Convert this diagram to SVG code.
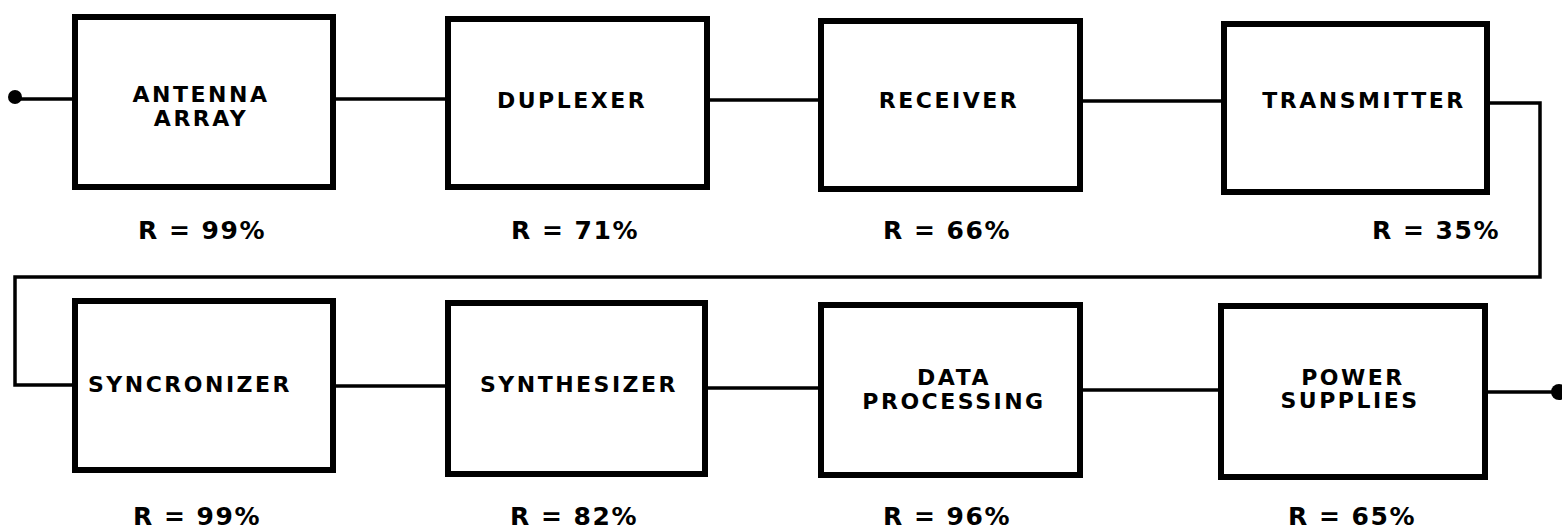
<svg xmlns="http://www.w3.org/2000/svg" width="1562" height="529" viewBox="0 0 1562 529">
<style>
.box{fill:#fff;stroke:#000;stroke-width:6;stroke-linejoin:miter}
.wire{fill:none;stroke:#000;stroke-width:3.5}
.t{font-family:"DejaVu Sans","Liberation Sans",Arial,sans-serif;font-weight:bold;font-size:22px;letter-spacing:2.5px;text-anchor:middle;fill:#000}
.r{font-family:"DejaVu Sans","Liberation Sans",Arial,sans-serif;font-weight:bold;font-size:25px;letter-spacing:1.5px;text-anchor:middle;fill:#000}
</style>
<rect width="1562" height="529" fill="#fff"/>
<g id="connectors">
<path class="wire" d="M15 99 H72"/>
<path class="wire" d="M336 99 H445"/>
<path class="wire" d="M710 100 H818"/>
<path class="wire" d="M1083 101 H1221"/>
<path class="wire" d="M1490 103 H1540 V277 H15 V385 H72"/>
<path class="wire" d="M336 386 H445"/>
<path class="wire" d="M708 388 H818"/>
<path class="wire" d="M1083 390 H1218"/>
<path class="wire" d="M1488 392 H1560"/>
<circle cx="15" cy="97" r="7" fill="#000"/>
<circle cx="1559" cy="392" r="8" fill="#000"/>
</g>
<g id="antenna-array">
<rect class="box" x="75" y="17" width="258" height="170"/>
<text class="t" x="201" y="102">ANTENNA</text>
<text class="t" x="201" y="126">ARRAY</text>
<text class="r" x="202" y="239">R = 99%</text>
</g>
<g id="duplexer">
<rect class="box" x="448" y="19" width="259" height="168"/>
<text class="t" x="572" y="108">DUPLEXER</text>
<text class="r" x="575" y="239">R = 71%</text>
</g>
<g id="receiver">
<rect class="box" x="821" y="21" width="259" height="168"/>
<text class="t" x="949" y="108">RECEIVER</text>
<text class="r" x="947" y="239">R = 66%</text>
</g>
<g id="transmitter">
<rect class="box" x="1224" y="24" width="263" height="168"/>
<text class="t" x="1364" y="108">TRANSMITTER</text>
<text class="r" x="1436" y="239">R = 35%</text>
</g>
<g id="syncronizer">
<rect class="box" x="75" y="301" width="258" height="169"/>
<text class="t" x="190" y="392">SYNCRONIZER</text>
<text class="r" x="197" y="525">R = 99%</text>
</g>
<g id="synthesizer">
<rect class="box" x="448" y="303" width="257" height="171"/>
<text class="t" x="579" y="392">SYNTHESIZER</text>
<text class="r" x="574" y="525">R = 82%</text>
</g>
<g id="data-processing">
<rect class="box" x="821" y="305" width="259" height="170"/>
<text class="t" x="954" y="385">DATA</text>
<text class="t" x="954" y="409">PROCESSING</text>
<text class="r" x="947" y="525">R = 96%</text>
</g>
<g id="power-supplies">
<rect class="box" x="1221" y="306" width="264" height="171"/>
<text class="t" x="1353" y="385">POWER</text>
<text class="t" x="1350" y="408">SUPPLIES</text>
<text class="r" x="1352" y="525">R = 65%</text>
</g>
</svg>
